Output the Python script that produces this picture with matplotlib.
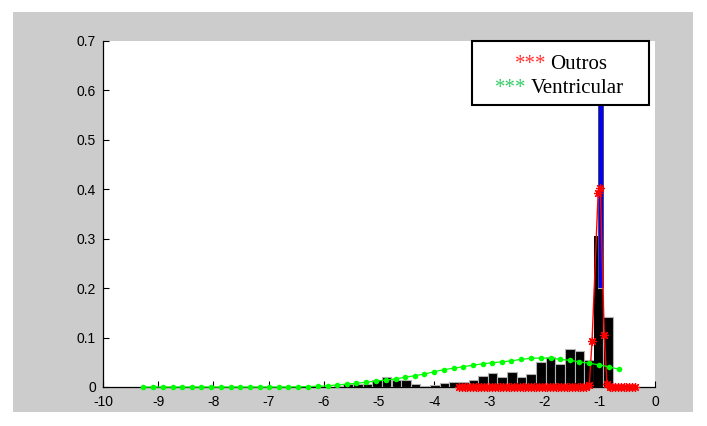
import matplotlib
matplotlib.use("Agg")
import matplotlib.pyplot as plt
from matplotlib.patches import Rectangle

# black histogram (Ventricular)
BIN_W = 0.1745
vent_centers = [-5.733, -5.559, -5.384, -5.210, -5.035, -4.861, -4.686, -4.512,
                -4.337, -4.163, -3.988, -3.814, -3.639, -3.465, -3.290, -3.116,
                -2.941, -2.767, -2.592, -2.418, -2.243, -2.069, -1.894, -1.720,
                -1.545, -1.371, -1.196, -1.022, -0.847]
vent_heights = [0.003, 0.006, 0.007, 0.007, 0.014, 0.021, 0.014, 0.014,
                0.006, 0.002, 0.004, 0.0075, 0.010, 0.010, 0.014, 0.022,
                0.029, 0.020, 0.031, 0.020, 0.026, 0.050, 0.061, 0.047,
                0.077, 0.073, 0.055, 0.200, 0.141]

# narrow bars at the peak
peak_black_x = [-1.072]
peak_black_h = [0.305]
outros_bar_x = [-0.995]
outros_bar_h = [0.75]

# fitted curve, Ventricular (green)
vent_fit_x = [-9.27, -9.09, -8.92, -8.74, -8.57, -8.39, -8.22, -8.04, -7.87, -7.69,
              -7.51, -7.34, -7.16, -6.99, -6.81, -6.64, -6.46, -6.28, -6.11, -5.93,
              -5.76, -5.58, -5.41, -5.23, -5.06, -4.88, -4.70, -4.53, -4.35, -4.18,
              -4.00, -3.83, -3.65, -3.48, -3.30, -3.12, -2.95, -2.77, -2.60, -2.42,
              -2.25, -2.07, -1.89, -1.72, -1.54, -1.37, -1.19, -1.02, -0.84, -0.66]
vent_fit_y = [0.0, 0.0, 0.0, 0.0, 0.0, 0.0, 0.0, 0.0, 0.0, 0.0,
              0.0, 0.0, 0.0, 0.0, 0.0, 0.0, 0.0005, 0.001, 0.0015, 0.0025,
              0.004, 0.006, 0.0075, 0.0095, 0.012, 0.014, 0.0165, 0.0196, 0.023, 0.026,
              0.031, 0.035, 0.038, 0.041, 0.044, 0.047, 0.049, 0.051, 0.053, 0.056,
              0.058, 0.0587, 0.058, 0.056, 0.054, 0.051, 0.048, 0.045, 0.041, 0.036]

# fitted curve, Outros (red)
outros_fit_x = [-3.55, -3.50, -3.45, -3.40, -3.35, -3.30, -3.25, -3.20, -3.15, -3.10,
                -3.05, -3.00, -2.95, -2.90, -2.85, -2.80, -2.75, -2.70, -2.65, -2.60,
                -2.55, -2.50, -2.45, -2.40, -2.35, -2.30, -2.25, -2.20, -2.15, -2.10,
                -2.05, -2.00, -1.95, -1.90, -1.85, -1.80, -1.75, -1.70, -1.65, -1.60,
                -1.55, -1.50, -1.45, -1.40, -1.35, -1.30, -1.25,
                -1.19, -1.14, -1.03, -0.99, -0.92, -0.87,
                -0.82, -0.77, -0.72, -0.67, -0.62, -0.57, -0.52, -0.47, -0.42, -0.37]
outros_fit_y = [0.0] * 47 + [0.005, 0.094, 0.393, 0.402, 0.105, 0.006] + [0.0] * 10

x_ticks = list(range(-10, 1))
y_ticks = [0, 0.1, 0.2, 0.3, 0.4, 0.5, 0.6, 0.7]
y_tick_labels = ["0", "0.1", "0.2", "0.3", "0.4", "0.5", "0.6", "0.7"]

W, H = 707, 426
fig = plt.figure(figsize=(W / 100, H / 100), dpi=100, facecolor="white")
# grey figure panel behind the axes
bg = Rectangle((13 / W, 1 - 412 / H), 680 / W, 400 / H,
               transform=fig.transFigure, facecolor="#cccccc",
               edgecolor="none", zorder=-10)
fig.add_artist(bg)

ax = fig.add_axes([103 / W, 1 - 387 / H, 552 / W, 346 / H])
ax.set_zorder(1)
ax.set_facecolor("white")

ax.bar(outros_bar_x, outros_bar_h, width=0.09, color="#0000ff",
       edgecolor="#404040", linewidth=0.6, zorder=2)
ax.bar(vent_centers, vent_heights, width=BIN_W, color="black",
       edgecolor="#b0b0b0", linewidth=0.8, zorder=3)
ax.bar(peak_black_x, peak_black_h, width=0.065, color="black",
       edgecolor="none", zorder=3)

ax.plot(outros_fit_x, outros_fit_y, color="#ff0000", linewidth=1.0,
        marker=(8, 2, 0), markersize=6.5, markeredgewidth=0.9, clip_on=False, zorder=4)
ax.plot(vent_fit_x, vent_fit_y, color="#00ff00", linewidth=0.9,
        marker="o", markersize=4, markeredgewidth=0, clip_on=False, zorder=5)

ax.set_xlim(-10, 0)
ax.set_ylim(0, 0.7)
ax.set_xticks(x_ticks)
ax.set_xticklabels([str(t) for t in x_ticks])
ax.set_yticks(y_ticks)
ax.set_yticklabels(y_tick_labels)
ax.tick_params(direction="in", length=4, width=0.8, labelsize=10,
               colors="black")
ax.tick_params(axis="x", pad=6)
ax.tick_params(axis="y", pad=5)
for lab in ax.get_xticklabels() + ax.get_yticklabels():
    lab.set_fontfamily("Liberation Sans")
ax.spines["top"].set_visible(False)
ax.spines["right"].set_visible(False)
for s in ("left", "bottom"):
    ax.spines[s].set_linewidth(0.9)

# legend box drawn by hand (coloured asterisks in text)
ax.add_patch(Rectangle((0.668, 0.815), 0.321, 0.185, transform=ax.transAxes,
                       facecolor="white", edgecolor="black", linewidth=1.5,
                       clip_on=False, zorder=10))
serif = "Liberation Serif"
ax.text(0.804, 0.919, "***", color="#ff3030", fontsize=15, family=serif,
        ha="right", va="baseline", transform=ax.transAxes, zorder=11)
ax.text(0.810, 0.919, "Outros", color="black", fontsize=15, family=serif,
        ha="left", va="baseline", transform=ax.transAxes, zorder=11)
ax.text(0.768, 0.850, "***", color="#33cc66", fontsize=15, family=serif,
        ha="right", va="baseline", transform=ax.transAxes, zorder=11)
ax.text(0.775, 0.850, "Ventricular", color="black", fontsize=15, family=serif,
        ha="left", va="baseline", transform=ax.transAxes, zorder=11)

fig.savefig("out.png", dpi=100, facecolor=fig.get_facecolor())
